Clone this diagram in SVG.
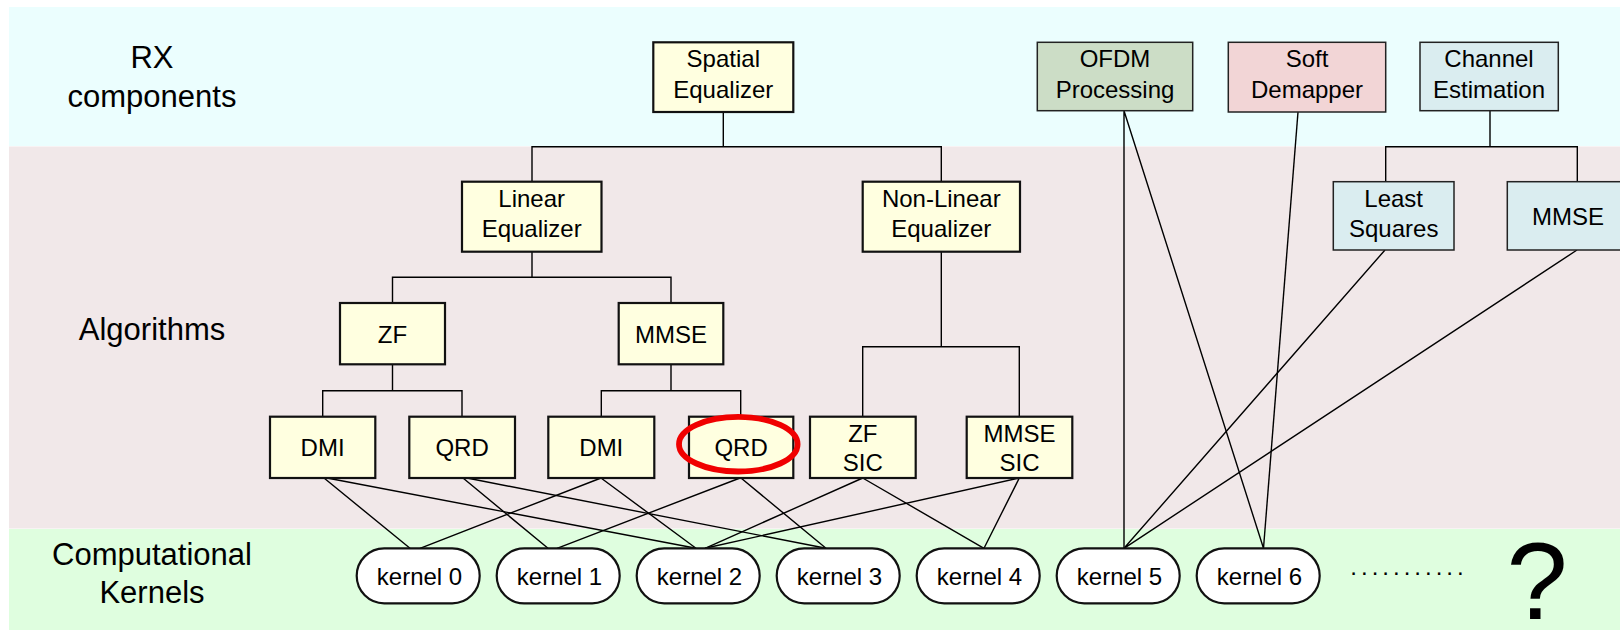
<svg xmlns="http://www.w3.org/2000/svg" width="1620" height="631" viewBox="0 0 1620 631">
<style>
text{font-family:"Liberation Sans",Arial,sans-serif;fill:#000;text-anchor:middle}
.lab{font-size:31px}
.t{font-size:24px}
.y{fill:#FFFFE0;stroke:#111;stroke-width:2.2}
.g{fill:#CCDDC6;stroke:#222;stroke-width:1.5}
.p{fill:#F2D5D6;stroke:#222;stroke-width:1.5}
.b{fill:#DAEDF0;stroke:#222;stroke-width:1.5}
.k{fill:#FFFFFF;stroke:#111;stroke-width:2.2}
#connectors path{fill:none;stroke:#000;stroke-width:1.4}
</style>
<rect x="0" y="0" width="1620" height="631" fill="#FFFFFF"/>
<g id="bands">
<rect x="9" y="7" width="1611" height="139" fill="#EBFEFE"/>
<rect x="9" y="146.5" width="1611" height="382" fill="#F1E8E9"/>
<rect x="9" y="529" width="1611" height="101" fill="#DFFEDF"/>
</g>
<g id="layer-labels">
<text class="lab" x="152" y="68">RX</text>
<text class="lab" x="152" y="107">components</text>
<text class="lab" x="152" y="340">Algorithms</text>
<text class="lab" x="152" y="565">Computational</text>
<text class="lab" x="152" y="603">Kernels</text>
</g>
<g id="connectors">
<path d="M723.3,112 V146.7 M532,181.7 V146.7 H941.3 V181.7"/>
<path d="M532,251.7 V277.3 M392.5,303 V277.3 H671 V303"/>
<path d="M392.5,364.3 V390.7 M322.7,416.7 V390.7 H462 V416.7"/>
<path d="M671,364.3 V390.7 M601.3,416.7 V390.7 H740.7 V416.7"/>
<path d="M941.3,252 V346.7 M862.7,416.7 V346.7 H1019.3 V416.7"/>
<path d="M1490,110.7 V146.7 M1385.7,181.7 V146.7 H1577.3 V181.7"/>
<path d="M324,478 L410,548.3 M327,478 L696,548.3"/>
<path d="M463,478 L548,548.3 M467,478 L826,548.3"/>
<path d="M601,478 L420,548.3 M601,478 L696,548.3"/>
<path d="M740,478 L557,548.3 M741,478 L826,548.3"/>
<path d="M862.7,478 L705,548.3 M862.7,478 L984,548.3"/>
<path d="M1019.3,478 L705,548.3 M1019.3,478 L984,548.3"/>
<path d="M1124,110.7 L1124,548.3 M1124,110.7 L1263.5,548.3"/>
<path d="M1298,112 L1263.5,548.3"/>
<path d="M1385,250 L1124,548.3 M1577,250 L1124,548.3"/>
</g>
<g id="spatial-equalizer"><rect class="y" x="653.3" y="42.3" width="140" height="69.7"/><text class="t" x="723.3" y="67">Spatial</text><text class="t" x="723.3" y="98">Equalizer</text></g>
<g id="ofdm-processing"><rect class="g" x="1037.3" y="42.3" width="155.4" height="68.4"/><text class="t" x="1115" y="67">OFDM</text><text class="t" x="1115" y="97.5">Processing</text></g>
<g id="soft-demapper"><rect class="p" x="1228.3" y="42.3" width="157.4" height="69.7"/><text class="t" x="1307" y="67">Soft</text><text class="t" x="1307" y="97.5">Demapper</text></g>
<g id="channel-estimation"><rect class="b" x="1420" y="42.3" width="138.3" height="68.4"/><text class="t" x="1489" y="67">Channel</text><text class="t" x="1489" y="97.5">Estimation</text></g>
<g id="linear-equalizer"><rect class="y" x="462" y="181.7" width="139.5" height="70"/><text class="t" x="531.7" y="206.5">Linear</text><text class="t" x="531.7" y="237">Equalizer</text></g>
<g id="nonlinear-equalizer"><rect class="y" x="862.7" y="181.7" width="157.3" height="70"/><text class="t" x="941.3" y="206.5">Non-Linear</text><text class="t" x="941.3" y="237">Equalizer</text></g>
<g id="least-squares"><rect class="b" x="1333.3" y="181.7" width="120.7" height="68.3"/><text class="t" x="1393.7" y="206.5">Least</text><text class="t" x="1393.7" y="237">Squares</text></g>
<g id="ce-mmse"><rect class="b" x="1507.3" y="181.7" width="122" height="68.3"/><text class="t" x="1568" y="224.5">MMSE</text></g>
<g id="zf"><rect class="y" x="340" y="303" width="105" height="61.3"/><text class="t" x="392.5" y="342.5">ZF</text></g>
<g id="mmse"><rect class="y" x="618.7" y="303" width="104.6" height="61.3"/><text class="t" x="671" y="342.5">MMSE</text></g>
<g id="zf-dmi"><rect class="y" x="270" y="416.7" width="105.3" height="61.3"/><text class="t" x="322.6" y="456">DMI</text></g>
<g id="zf-qrd"><rect class="y" x="409.3" y="416.7" width="105.7" height="61.3"/><text class="t" x="462.1" y="456">QRD</text></g>
<g id="mmse-dmi"><rect class="y" x="548.3" y="416.7" width="106" height="61.3"/><text class="t" x="601.3" y="456">DMI</text></g>
<g id="mmse-qrd"><rect class="y" x="689" y="416.7" width="104.3" height="61.3"/><text class="t" x="741.1" y="456">QRD</text></g>
<g id="zf-sic"><rect class="y" x="810" y="416.7" width="105.7" height="61.3"/><text class="t" x="862.8" y="441.5">ZF</text><text class="t" x="862.8" y="470.5">SIC</text></g>
<g id="mmse-sic"><rect class="y" x="966.7" y="416.7" width="105.6" height="61.3"/><text class="t" x="1019.5" y="441.5">MMSE</text><text class="t" x="1019.5" y="470.5">SIC</text></g>
<g id="highlight"><ellipse cx="738.3" cy="444.2" rx="59.3" ry="27.3" fill="none" stroke="#F00000" stroke-width="5.8"/></g>
<g id="kernel-0"><rect class="k" x="356.7" y="548.3" width="123" height="55" rx="27.5"/><text class="t" x="419.5" y="585">kernel 0</text></g>
<g id="kernel-1"><rect class="k" x="496.7" y="548.3" width="123" height="55" rx="27.5"/><text class="t" x="559.5" y="585">kernel 1</text></g>
<g id="kernel-2"><rect class="k" x="636.7" y="548.3" width="123" height="55" rx="27.5"/><text class="t" x="699.5" y="585">kernel 2</text></g>
<g id="kernel-3"><rect class="k" x="776.7" y="548.3" width="123" height="55" rx="27.5"/><text class="t" x="839.5" y="585">kernel 3</text></g>
<g id="kernel-4"><rect class="k" x="916.7" y="548.3" width="123" height="55" rx="27.5"/><text class="t" x="979.5" y="585">kernel 4</text></g>
<g id="kernel-5"><rect class="k" x="1056.7" y="548.3" width="123" height="55" rx="27.5"/><text class="t" x="1119.5" y="585">kernel 5</text></g>
<g id="kernel-6"><rect class="k" x="1196.7" y="548.3" width="123" height="55" rx="27.5"/><text class="t" x="1259.5" y="585">kernel 6</text></g>
<g id="more">
<text class="t" x="1409" y="574.5" letter-spacing="4">...........</text>
<text x="1537" y="619" font-size="110px">?</text>
</g>
</svg>
